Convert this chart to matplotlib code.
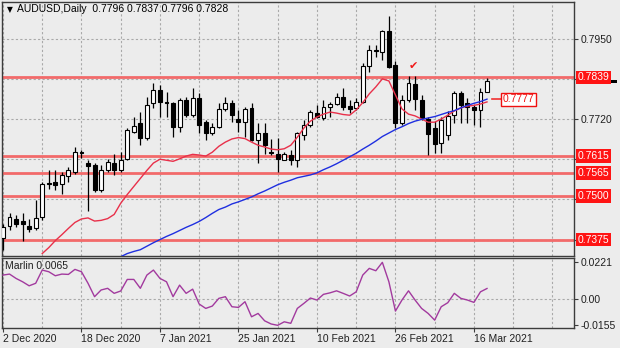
import matplotlib
matplotlib.use("Agg")
import matplotlib.pyplot as plt
import matplotlib.transforms as mtransforms
import numpy as np

# ---- AUDUSD daily candles (2 Dec 2020 .. 18 Mar 2021) ----
opens = [0.7380, 0.7415, 0.7435, 0.7427, 0.7415, 0.7409, 0.7439, 0.7536, 0.7540, 0.7535,
         0.7556, 0.7568, 0.7625, 0.7593, 0.7588, 0.7516, 0.7573, 0.7594, 0.7575, 0.7607,
         0.7683, 0.7708, 0.7665, 0.7765, 0.7803, 0.7769, 0.7765, 0.7698, 0.7775, 0.7732,
         0.7780, 0.7712, 0.7679, 0.7698, 0.7748, 0.7765, 0.7719, 0.7712, 0.7751, 0.7660,
         0.7679, 0.7627, 0.7621, 0.7604, 0.7617, 0.7602, 0.7674, 0.7703, 0.7738, 0.7722,
         0.7755, 0.7763, 0.7782, 0.7757, 0.7751, 0.7770, 0.7872, 0.7918, 0.7913, 0.7971,
         0.7875, 0.7708, 0.7775, 0.7821, 0.7775, 0.7720, 0.7694, 0.7651, 0.7674, 0.7732,
         0.7794, 0.7765, 0.7755, 0.7746, 0.7796]
highs = [0.7420, 0.7450, 0.7444, 0.7450, 0.7435, 0.7487, 0.7540, 0.7573, 0.7573, 0.7568,
         0.7583, 0.7640, 0.7631, 0.7602, 0.7593, 0.7588, 0.7607, 0.7621, 0.7626, 0.7693,
         0.7727, 0.7741, 0.7784, 0.7823, 0.7818, 0.7798, 0.7770, 0.7780, 0.7784, 0.7808,
         0.7794, 0.7717, 0.7708, 0.7765, 0.7784, 0.7775, 0.7746, 0.7754, 0.7767, 0.7708,
         0.7708, 0.7662, 0.7665, 0.7626, 0.7631, 0.7683, 0.7717, 0.7746, 0.7760, 0.7775,
         0.7770, 0.7794, 0.7808, 0.7775, 0.7780, 0.7880, 0.7933, 0.7933, 0.7976, 0.8014,
         0.7885, 0.7789, 0.7842, 0.7842, 0.7789, 0.7726, 0.7714, 0.7726, 0.7743, 0.7799,
         0.7799, 0.7780, 0.7760, 0.7808, 0.7837]
lows = [0.7345, 0.7401, 0.7410, 0.7372, 0.7396, 0.7401, 0.7430, 0.7521, 0.7516, 0.7506,
        0.7540, 0.7564, 0.7608, 0.7458, 0.7511, 0.7511, 0.7568, 0.7559, 0.7568, 0.7602,
        0.7679, 0.7645, 0.7660, 0.7751, 0.7727, 0.7727, 0.7669, 0.7683, 0.7727, 0.7727,
        0.7679, 0.7660, 0.7674, 0.7693, 0.7744, 0.7712, 0.7683, 0.7669, 0.7658, 0.7593,
        0.7621, 0.7617, 0.7568, 0.7602, 0.7588, 0.7583, 0.7660, 0.7698, 0.7722, 0.7717,
        0.7727, 0.7760, 0.7746, 0.7736, 0.7746, 0.7765, 0.7856, 0.7899, 0.7890, 0.7866,
        0.7693, 0.7703, 0.7770, 0.7746, 0.7717, 0.7616, 0.7622, 0.7622, 0.7660, 0.7708,
        0.7708, 0.7708, 0.7703, 0.7698, 0.7796]
closes = [0.7412, 0.7439, 0.7420, 0.7420, 0.7406, 0.7437, 0.7535, 0.7533, 0.7530, 0.7559,
          0.7575, 0.7626, 0.7622, 0.7585, 0.7516, 0.7573, 0.7597, 0.7575, 0.7602, 0.7688,
          0.7700, 0.7665, 0.7760, 0.7803, 0.7770, 0.7766, 0.7698, 0.7775, 0.7732, 0.7780,
          0.7703, 0.7681, 0.7698, 0.7748, 0.7765, 0.7732, 0.7712, 0.7748, 0.7660, 0.7679,
          0.7645, 0.7624, 0.7607, 0.7619, 0.7602, 0.7679, 0.7703, 0.7741, 0.7727, 0.7755,
          0.7762, 0.7782, 0.7755, 0.7750, 0.7770, 0.7872, 0.7918, 0.7915, 0.7971, 0.7870,
          0.7708, 0.7775, 0.7824, 0.7777, 0.7722, 0.7677, 0.7648, 0.7717, 0.7729, 0.7794,
          0.7760, 0.7755, 0.7746, 0.7798, 0.7828]

nan = np.nan
# Fast (red) and slow (blue) moving averages
ma_fast = [nan] * 6 + [
    0.7335, 0.7352, 0.7372, 0.7389, 0.7407, 0.7424, 0.7434, 0.7437, 0.7428, 0.7430,
    0.7435, 0.7447, 0.7479, 0.7504, 0.7527, 0.7550, 0.7573, 0.7594, 0.7605, 0.7602,
    0.7599, 0.7606, 0.7614, 0.7619, 0.7617, 0.7614, 0.7625, 0.7642, 0.7654, 0.7663,
    0.7667, 0.7664, 0.7654, 0.7645, 0.7640, 0.7634, 0.7632, 0.7635, 0.7645, 0.7668,
    0.7694, 0.7714, 0.7726, 0.7734, 0.7740, 0.7737, 0.7733, 0.7731, 0.7746, 0.7767,
    0.7792, 0.7812, 0.7835, 0.7829, 0.7789, 0.7749, 0.7734, 0.7729, 0.7720, 0.7711,
    0.7711, 0.7720, 0.7731, 0.7743, 0.7752, 0.7757, 0.7759, 0.7763, 0.7769]
ma_slow = [nan] * 18 + [
    0.7326, 0.7335, 0.7341, 0.7346, 0.7356, 0.7366, 0.7375, 0.7384, 0.7392, 0.7401,
    0.7410, 0.7418, 0.7427, 0.7438, 0.7450, 0.7461, 0.7468, 0.7477, 0.7483, 0.7490,
    0.7497, 0.7506, 0.7514, 0.7523, 0.7532, 0.7539, 0.7545, 0.7552, 0.7556, 0.7560,
    0.7566, 0.7575, 0.7583, 0.7592, 0.7602, 0.7612, 0.7622, 0.7634, 0.7645, 0.7657,
    0.7670, 0.7680, 0.7690, 0.7698, 0.7707, 0.7714, 0.7719, 0.7723, 0.7727, 0.7733,
    0.7739, 0.7744, 0.7752, 0.7759, 0.7765, 0.7770, 0.7777]

# Marlin oscillator
marlin = [0.0145, 0.0151, 0.0125, 0.0105, 0.0081, 0.0096, 0.0175, 0.0165, 0.0141, 0.0151,
          0.0149, 0.0179, 0.0165, 0.0096, 0.0016, 0.0056, 0.0066, 0.0036, 0.0050, 0.0119,
          0.0119, 0.0066, 0.0145, 0.0175, 0.0125, 0.0105, 0.0016, 0.0085, 0.0036, 0.0061,
          -0.0028, -0.0054, -0.0040, 0.0006, 0.0016, -0.0044, -0.0048, -0.0014, -0.0104, -0.0084,
          -0.0128, -0.0147, -0.0155, -0.0134, -0.0143, -0.0054, -0.0024, 0.0008, -0.0004, 0.0030,
          0.0039, 0.0051, 0.0036, 0.0020, 0.0045, 0.0145, 0.0185, 0.0171, 0.0221, 0.0105,
          -0.0070, -0.0004, 0.0051, -0.0004, -0.0054, -0.0084, -0.0124, -0.0044, -0.0020, 0.0036,
          0.0006, -0.0004, -0.0018, 0.0045, 0.0065]

levels = [0.7839, 0.7615, 0.7565, 0.7500, 0.7375]
price_grid = [0.7950, 0.7835, 0.7720, 0.7605, 0.7490, 0.7375]
price_ticks = [0.7950, 0.7720]
osc_ticks = [0.0221, 0.0, -0.0155]
osc_tick_labels = ["0.0221", "0.00", "-0.0155"]
date_labels = ["2 Dec 2020", "18 Dec 2020", "7 Jan 2021", "25 Jan 2021",
               "10 Feb 2021", "26 Feb 2021", "16 Mar 2021"]
symbol = "AUDUSD,Daily"
ma_label_value = 0.7777
last_bid = 0.7828

BG = "#ececec"
GRID = "#a9a9a9"
FRAME = "#3c3c3c"
LEVEL = "#f26a6a"
FONT = ["Liberation Sans", "DejaVu Sans"]
FS = 7.5

plt.rcParams["font.family"] = FONT

W, H = 620, 348
fig = plt.figure(figsize=(W / 100, H / 100), dpi=100, facecolor=BG)


def px_axes(x0, y0, x1, y1):
    return fig.add_axes([x0 / W, 1 - y1 / H, (x1 - x0) / W, (y1 - y0) / H])


ax = px_axes(2, 2, 574, 256)
ox = px_axes(2, 257.5, 574, 327.5)

n = len(closes)
x = np.arange(n)
xlim = (-0.15, 87.3)

for a in (ax, ox):
    a.set_facecolor(BG)
    a.set_xlim(*xlim)
    for s in a.spines.values():
        s.set_color(FRAME)
        s.set_linewidth(1.0)
    for gx in range(0, 88, 6):
        a.axvline(gx, color=GRID, lw=0.8, ls=(0, (2, 2)), zorder=0.5)

# ---- price panel ----
ax.set_ylim(0.7328, 0.8055)
for gy in price_grid:
    ax.axhline(gy, color=GRID, lw=0.8, ls=(0, (2, 2)), zorder=0.5)

for lv in levels:
    ax.axhline(lv, color=LEVEL, lw=2.0, zorder=1)

o = np.array(opens); c = np.array(closes)
hi = np.array(highs); lo = np.array(lows)
up = c >= o
ax.vlines(x, lo, hi, color="black", lw=0.9, zorder=3)
body_h = np.maximum(np.abs(c - o), 0.00004)
ax.bar(x, body_h, bottom=np.minimum(o, c), width=0.6,
       color=np.where(up, "white", "black"), edgecolor="black", linewidth=0.8, zorder=4)

ax.plot(x, ma_fast, color="#e8304a", lw=1.0, zorder=5)
ax.plot(x, ma_slow, color="#1f2fe0", lw=1.0, zorder=5)

ax.yaxis.tick_right()
ax.set_yticks(price_grid)
ax.set_yticklabels([f"{v:.4f}" if v in price_ticks else "" for v in price_grid])
ax.tick_params(axis="y", length=3, width=0.8, color=FRAME, labelsize=FS, pad=2, labelcolor="#202020")
ax.tick_params(axis="x", length=0, labelbottom=False)

ytr = mtransforms.blended_transform_factory(ax.transAxes, ax.transData)
# current bid marker, mostly hidden behind the 0.7839 tag
ax.bar([1.0035], [0.0009], bottom=last_bid - 0.00045, width=0.072, align="edge",
       transform=ytr, color="black", clip_on=False, zorder=7)
for lv in levels:
    ax.text(1.006, lv, f"{lv:.4f}", transform=ytr, fontsize=FS, color="white",
            va="center", ha="left", clip_on=False, zorder=9,
            bbox=dict(boxstyle="square,pad=0.18", fc="#ff1414", ec="none"))

# slow MA value tag
ax.plot([74.8, 76.3], [ma_label_value, ma_label_value], color="#f03030", lw=1.2, zorder=6)
ax.text(76.45, ma_label_value, f"{ma_label_value:.4f}", fontsize=FS, color="#f01010",
        va="center", ha="left", zorder=7,
        bbox=dict(boxstyle="square,pad=0.15", fc="white", ec="#f01010", lw=1.0))

ax.text(62.8, 0.7872, "\u2714", fontsize=8, color="#f01818", ha="center", va="center",
        family=["DejaVu Sans"], zorder=7)

ax.text(0.009, 0.972, "\u25bc", transform=ax.transAxes, fontsize=5.5, color="black",
        va="center", ha="left", family=["DejaVu Sans"])
ax.text(0.026, 0.972,
        f"{symbol}  {opens[-1]:.4f} {highs[-1]:.4f} {lows[-1]:.4f} {closes[-1]:.4f}",
        transform=ax.transAxes, fontsize=FS, color="black", va="center", ha="left")

# ---- oscillator panel ----
ox.set_ylim(-0.0168, 0.0250)
ox.axhline(0.0, color=GRID, lw=0.8, ls=(0, (2, 2)), zorder=0.5)
ox.plot(x, marlin, color="#a23a9e", lw=1.0, zorder=3)
ox.yaxis.tick_right()
ox.set_yticks(osc_ticks)
ox.set_yticklabels(osc_tick_labels)
ox.tick_params(axis="y", length=3, width=0.8, color=FRAME, labelsize=FS, pad=2, labelcolor="#202020")
ox.set_xticks(np.arange(0, 12 * len(date_labels), 12))
ox.set_xticklabels(date_labels)
ox.tick_params(axis="x", length=3, width=0.8, color=FRAME, labelsize=FS, pad=2, labelcolor="#202020")
for lab in ox.get_xticklabels():
    lab.set_horizontalalignment("left")
ox.text(0.006, 0.88, f"Marlin {marlin[-1]:.4f}", transform=ox.transAxes, fontsize=FS,
        color="#202020", va="center", ha="left")

fig.savefig("out.png", dpi=100, facecolor=BG)
